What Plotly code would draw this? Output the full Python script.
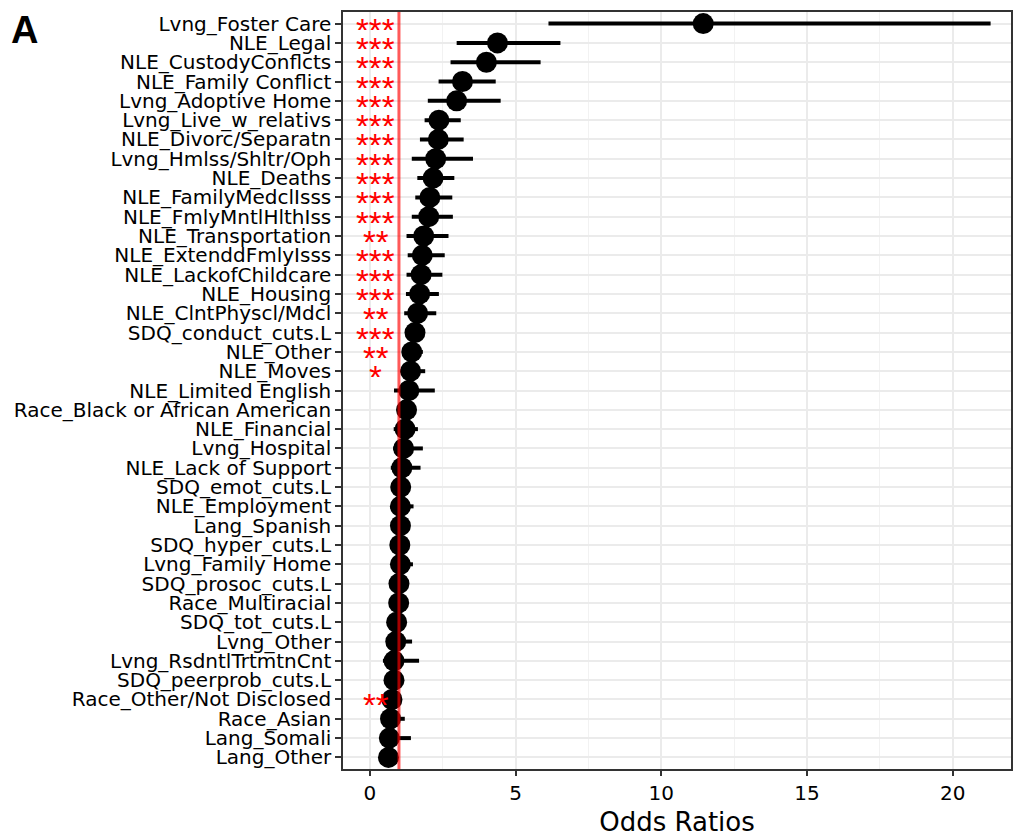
import plotly.graph_objects as go

categories = [
    "Lvng_Foster Care", "NLE_Legal", "NLE_CustodyConflcts", "NLE_Family Conflict",
    "Lvng_Adoptive Home", "Lvng_Live_w_relativs", "NLE_Divorc/Separatn",
    "Lvng_Hmlss/Shltr/Oph", "NLE_Deaths", "NLE_FamilyMedclIsss", "NLE_FmlyMntlHlthIss",
    "NLE_Transportation", "NLE_ExtenddFmlyIsss", "NLE_LackofChildcare", "NLE_Housing",
    "NLE_ClntPhyscl/Mdcl", "SDQ_conduct_cuts.L", "NLE_Other", "NLE_Moves",
    "NLE_Limited English", "Race_Black or African American", "NLE_Financial",
    "Lvng_Hospital", "NLE_Lack of Support", "SDQ_emot_cuts.L", "NLE_Employment",
    "Lang_Spanish", "SDQ_hyper_cuts.L", "Lvng_Family Home", "SDQ_prosoc_cuts.L",
    "Race_Multiracial", "SDQ_tot_cuts.L", "Lvng_Other", "Lvng_RsdntlTrtmtnCnt",
    "SDQ_peerprob_cuts.L", "Race_Other/Not Disclosed", "Race_Asian", "Lang_Somali",
    "Lang_Other",
]
odds_ratio = [
    11.44, 4.38, 4.00, 3.18, 2.98, 2.37, 2.35, 2.26, 2.17, 2.06, 2.02,
    1.85, 1.80, 1.76, 1.71, 1.64, 1.55, 1.44, 1.40, 1.34, 1.26, 1.21,
    1.16, 1.10, 1.06, 1.05, 1.05, 1.03, 1.05, 1.00, 0.99, 0.92, 0.89,
    0.83, 0.83, 0.76, 0.71, 0.67, 0.64,
]
ci_low = [
    6.13, 2.98, 2.77, 2.36, 1.99, 1.88, 1.72, 1.44, 1.63, 1.56, 1.44,
    1.26, 1.30, 1.26, 1.24, 1.18, 1.30, 1.12, 1.05, 0.83, 1.10, 0.82,
    0.80, 0.72, 0.85, 0.75, 0.80, 0.85, 0.75, 0.82, 0.80, 0.75, 0.60,
    0.45, 0.65, 0.55, 0.50, 0.45, 0.45,
]
ci_high = [
    21.30, 6.54, 5.86, 4.32, 4.49, 3.12, 3.22, 3.54, 2.90, 2.83, 2.85,
    2.70, 2.57, 2.49, 2.37, 2.28, 1.80, 1.82, 1.90, 2.23, 1.45, 1.65,
    1.82, 1.74, 1.30, 1.50, 1.35, 1.25, 1.48, 1.25, 1.20, 1.12, 1.45,
    1.69, 1.05, 1.05, 1.20, 1.41, 0.95,
]
significance = [
    "***", "***", "***", "***", "***", "***", "***", "***", "***", "***", "***",
    "**", "***", "***", "***", "**", "***", "**", "*", "", "", "",
    "", "", "", "", "", "", "", "", "", "", "",
    "", "", "**", "", "", "",
]
x_ticks = [0, 5, 10, 15, 20]
x_title = "Odds Ratios"
panel_label = "A"

err_plus = [h - o for h, o in zip(ci_high, odds_ratio)]
err_minus = [o - l for o, l in zip(odds_ratio, ci_low)]

FONT = "DejaVu Sans, sans-serif"
STAR_FONT = "Liberation Sans, Arial, sans-serif"

L, R, T, B = 343, 1, 12, 68
PW, PH = 1014 - L - R, 837 - T - B

fig = go.Figure()
fig.add_trace(go.Scatter(
    x=odds_ratio, y=categories, mode="markers",
    marker=dict(size=21, color="black"),
    error_x=dict(type="data", array=err_plus, arrayminus=err_minus,
                 thickness=4, width=0, color="black"),
    showlegend=False, hoverinfo="skip",
))

annotations = []
for cat, sig in zip(categories, significance):
    if sig:
        annotations.append(dict(
            x=0.2, y=cat, xref="x", yref="y", text=sig, showarrow=False,
            xanchor="center", yanchor="middle", height=18, valign="top",
            yshift=3,
            font=dict(size=33, color="red", family=STAR_FONT),
        ))
annotations.append(dict(
    text="<b>" + panel_label + "</b>", xref="paper", yref="paper",
    x=(8 - L) / PW, y=1 + (T - 7) / PH, xanchor="left", yanchor="top",
    showarrow=False, font=dict(size=38, color="black", family=STAR_FONT),
))

fig.add_shape(type="line", x0=1, x1=1, y0=0, y1=1, yref="paper", xref="x",
              line=dict(color="rgba(255,0,0,0.65)", width=3), layer="above")

fig.update_layout(
    width=1014, height=837,
    margin=dict(l=L, r=R, t=T, b=B),
    paper_bgcolor="white", plot_bgcolor="white",
    font=dict(family=FONT, color="black"),
    annotations=annotations,
)

fig.update_xaxes(
    range=[-0.92, 22.0], tickvals=x_ticks, ticktext=[str(t) for t in x_ticks],
    showgrid=True, gridcolor="#EBEBEB", gridwidth=2,
    minor=dict(dtick=2.5, tick0=0, showgrid=True, gridcolor="#F2F2F2", gridwidth=1),
    zeroline=False, showline=True, linecolor="#333333", linewidth=1.5, mirror=True,
    ticks="outside", ticklen=5, tickcolor="#333333", tickwidth=1.5,
    tickfont=dict(size=20, color="black"),
    title=dict(text=x_title, font=dict(size=26, color="black"), standoff=12),
)
fig.update_yaxes(
    categoryorder="array", categoryarray=categories,
    tickmode="array", tickvals=categories,
    range=[len(categories) - 0.4, -0.6],
    showgrid=True, gridcolor="#EBEBEB", gridwidth=2,
    zeroline=False, showline=True, linecolor="#333333", linewidth=1.5, mirror=True,
    ticks="outside", ticklen=6, tickcolor="#333333", tickwidth=1.5,
    tickfont=dict(size=20, color="black"),
)

fig.write_html("out.html")
